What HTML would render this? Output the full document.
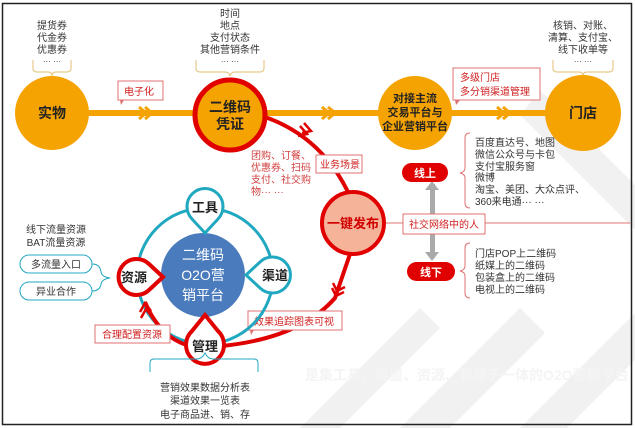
<!DOCTYPE html>
<html><head><meta charset="utf-8"><style>
html,body{margin:0;padding:0;background:#fff}
svg{display:block;font-family:"Liberation Sans","Noto Sans CJK SC",sans-serif}
</style></head><body>
<svg width="635" height="428" viewBox="0 0 635 428" xmlns="http://www.w3.org/2000/svg">
<rect x="0" y="0" width="635" height="428" fill="#fff"/>
<!-- faint background pattern -->
<g fill="#f1f1f1">
<polygon points="520,428 635,313 635,360 567,428"/>
<polygon points="400,428 520,308 545,333 450,428"/>
<polygon points="540,90 635,185 635,230 520,115"/>
<polygon points="300,428 420,308 440,328 340,428"/>
</g>
<rect x="2.5" y="3.5" width="629" height="421" fill="none" stroke="#222" stroke-width="1.5"/>

<!-- main orange line -->
<line x1="85" y1="113" x2="585" y2="113" stroke="#f5a300" stroke-width="6"/>
<g fill="none" stroke="#f5a300" stroke-width="3">
<polyline points="139,107 146,113 139,119"/><polyline points="145,107 152,113 145,119"/>
<polyline points="322,107 329,113 322,119"/><polyline points="328,107 335,113 328,119"/>
<polyline points="497,107 504,113 497,119"/><polyline points="503,107 510,113 503,119"/>
</g>

<!-- top braces -->
<g fill="none" stroke="#e8c98a" stroke-width="1.2">
<path d="M33,60 v8 q0,4 4,4 h11 q4,0 4,4 q0,-4 4,-4 h11 q4,0 4,-4 v-8"/>
<path d="M196,60 v8 q0,4 4,4 h25 q4,0 5,4 q1,-4 5,-4 h25 q4,0 4,-4 v-8"/>
<path d="M553,60 v8 q0,4 4,4 h22 q4,0 4,4 q0,-4 4,-4 h22 q4,0 4,-4 v-8"/>
</g>
<g font-size="10" fill="#333" text-anchor="middle">
<text x="52" y="29">提货券</text><text x="52" y="41">代金券</text><text x="52" y="53">优惠券</text><text x="52" y="64" font-size="8">··· ···</text>
<text x="230" y="17">时间</text><text x="230" y="29">地点</text><text x="230" y="41">支付状态</text><text x="230" y="53">其他营销条件</text><text x="230" y="64" font-size="8">··· ···</text>
<text x="583" y="29">核销、对账、</text><text x="583" y="41">清算、支付宝、</text><text x="583" y="53">线下收单等</text><text x="583" y="64" font-size="8">··· ···</text>
</g>

<!-- red arc from 二维码 to 一键发布 -->
<path d="M262,116 Q320,135 348,192" fill="none" stroke="#e00000" stroke-width="4"/>
<g fill="none" stroke="#e00000" stroke-width="2.5">
<polyline points="300,126 307,134 298,136"/><polyline points="304,123 311,131 302,133"/>
</g>

<!-- circles -->
<circle cx="52" cy="113" r="37" fill="#f5a300"/>
<text x="52" y="118" font-size="14" font-weight="bold" text-anchor="middle" fill="#222">实物</text>
<circle cx="230" cy="115" r="35" fill="#f5a300" stroke="#e00000" stroke-width="5"/>
<text x="230" y="112" font-size="14" font-weight="bold" text-anchor="middle" fill="#222">二维码</text>
<text x="230" y="129" font-size="14" font-weight="bold" text-anchor="middle" fill="#222">凭证</text>
<circle cx="415" cy="113" r="37" fill="#f5a300"/>
<g font-size="11" font-weight="bold" text-anchor="middle" fill="#222">
<text x="415" y="102">对接主流</text><text x="415" y="116">交易平台与</text><text x="415" y="130">企业营销平台</text>
</g>
<circle cx="583" cy="113" r="38" fill="#f5a300"/>
<text x="583" y="118" font-size="14" font-weight="bold" text-anchor="middle" fill="#222">门店</text>

<!-- callout boxes -->
<g fill="#fff" stroke="#e07070" stroke-width="1">
<rect x="118" y="81" width="45" height="19"/>
<rect x="453" y="68" width="87" height="32"/>
<rect x="316" y="155" width="46" height="18"/>
<rect x="403" y="214" width="82" height="20"/>
<rect x="248" y="311" width="94" height="19"/>
<rect x="95" y="325" width="75" height="18"/>
</g>
<polygon points="120,100 124,100 121,105" fill="#e07070"/>
<polygon points="455,100 460,100 456,105" fill="#e07070"/>
<g font-size="10" fill="#d02020">
<text x="124" y="95">电子化</text>
<text x="460" y="81">多级门店</text><text x="460" y="95">多分销渠道管理</text>
<text x="320" y="168">业务场景</text>
<text x="254" y="325">效果追踪图表可视</text>
<text x="102" y="338">合理配置资源</text>
</g>
<g font-size="10" fill="#d04040">
<text x="251" y="159">团购、订餐、</text><text x="251" y="171">优惠券、扫码</text><text x="251" y="183">支付、社交购</text><text x="251" y="195">物··· ···</text>
</g>

<!-- right branch -->
<line x1="383" y1="223" x2="630" y2="223" stroke="#e07070" stroke-width="1"/>
<rect x="430" y="184" width="5" height="74" fill="#aaa"/>
<polygon points="425,190 432,181 439,190" fill="#aaa"/>
<polygon points="425,252 432,261 439,252" fill="#aaa"/>
<rect x="403" y="214" width="82" height="20" fill="#fff" stroke="#e07070"/>
<text x="409" y="228" font-size="10" fill="#d02020">社交网络中的人</text>
<circle cx="353" cy="223" r="31" fill="#f5b49a" stroke="#e00000" stroke-width="4"/>
<text x="353" y="228" font-size="13" font-weight="bold" fill="#d00000" text-anchor="middle">一键发布</text>
<rect x="402" y="163" width="46" height="19" rx="9.5" fill="#e00000"/>
<text x="425" y="177" font-size="11" font-weight="bold" fill="#fff" text-anchor="middle">线上</text>
<rect x="407" y="262" width="48" height="19" rx="9.5" fill="#e00000"/>
<text x="431" y="276" font-size="11" font-weight="bold" fill="#fff" text-anchor="middle">线下</text>
<g fill="none" stroke="#e07070" stroke-width="1">
<path d="M470,133 q-5,0 -5,5 v30 q0,4 -5,5 q5,1 5,5 v25 q0,5 5,5"/>
<path d="M470,243 q-5,0 -5,5 v18 q0,4 -5,5 q5,1 5,5 v17 q0,5 5,5"/>
</g>
<g font-size="10" fill="#333">
<text x="475" y="146">百度直达号、地图</text><text x="475" y="158">微信公众号与卡包</text><text x="475" y="170">支付宝服务窗</text><text x="475" y="181">微博</text><text x="475" y="193">淘宝、美团、大众点评、</text><text x="475" y="205">360来电通··· ···</text>
<text x="475" y="257">门店POP上二维码</text><text x="475" y="269">纸媒上的二维码</text><text x="475" y="281">包装盒上的二维码</text><text x="475" y="293">电视上的二维码</text>
</g>

<!-- red line from 一键发布 to 管理 -->
<path d="M350,254 L335,298 Q300,338 222,346" fill="none" stroke="#e00000" stroke-width="4"/>
<g fill="none" stroke="#e00000" stroke-width="2.5">
<polyline points="333,283 337,291 345,287"/><polyline points="332,288 336,296 344,292"/>
</g>
<rect x="248" y="311" width="94" height="19" fill="#fff" stroke="#e07070"/>
<text x="254" y="325" font-size="10" fill="#d02020">效果追踪图表可视</text>
<polygon points="250,330 254,330 251,335" fill="#e07070"/>

<!-- cycle -->
<circle cx="205" cy="276" r="68" fill="none" stroke="#20a8c0" stroke-width="3"/>
<path d="M190,346 Q160,338 145,302" fill="none" stroke="#e00000" stroke-width="4"/>
<g fill="none" stroke="#e00000" stroke-width="2.5">
<polyline points="140,312 145,303 151,311"/><polyline points="141,318 146,309 152,317"/>
</g>
<rect x="95" y="325" width="75" height="18" fill="#fff" stroke="#e07070"/>
<text x="102" y="338" font-size="10" fill="#d02020">合理配置资源</text>
<circle cx="203" cy="275" r="42" fill="#4a7bbd"/>
<g font-size="14" fill="#fff" text-anchor="middle">
<text x="203" y="260">二维码</text><text x="203" y="280">O2O营</text><text x="203" y="300">销平台</text>
</g>
<!-- teardrop nodes -->
<g stroke-width="3" fill="#fff">
<path d="M205,233 L192,219 A18,18 0 1 1 218,219 Z" stroke="#20a8c0"/>
<path d="M246,275 L260,262 A18,18 0 1 1 260,288 Z" stroke="#20a8c0"/>
<path d="M163,277 L149,264 A18,18 0 1 0 149,290 Z" stroke="#e00000" stroke-width="4"/>
<path d="M205,315 L192,331 A19,19 0 1 0 218,331 Z" stroke="#e00000" stroke-width="4"/>
</g>
<g font-size="13" font-weight="bold" fill="#222" text-anchor="middle">
<text x="205" y="212">工具</text><text x="275" y="280">渠道</text><text x="134" y="282">资源</text><text x="205" y="351">管理</text>
</g>

<!-- left resources -->
<g font-size="10" fill="#333" text-anchor="middle">
<text x="56" y="233">线下流量资源</text><text x="56" y="246">BAT流量资源</text>
</g>
<g fill="#fff" stroke="#20a8c0" stroke-width="1">
<rect x="20" y="255" width="72" height="18" rx="9"/>
<rect x="20" y="282" width="72" height="18" rx="9"/>
</g>
<path d="M92,264 q8,0 9,8 q1,5 9,6 q-8,1 -9,6 q-1,7 -9,7" fill="none" stroke="#20a8c0"/>
<g font-size="10" fill="#333" text-anchor="middle">
<text x="56" y="268">多流量入口</text><text x="56" y="295">异业合作</text>
</g>

<!-- bottom brace -->
<path d="M150,372 v-9 q0,-4 4,-4 h43 q5,0 8,-6 q3,6 8,6 h41 q4,0 4,4 v9" fill="none" stroke="#20a8c0" stroke-width="1"/>
<g font-size="10" fill="#333" text-anchor="middle">
<text x="205" y="391">营销效果数据分析表</text><text x="205" y="404">渠道效果一览表</text><text x="205" y="418">电子商品进、销、存</text>
</g>
<text x="305" y="380" font-size="14" font-weight="bold" fill="#f4f4f4">是集工具、渠道、资源、管理于一体的O2O营销平台</text>
</svg>
</body></html>
